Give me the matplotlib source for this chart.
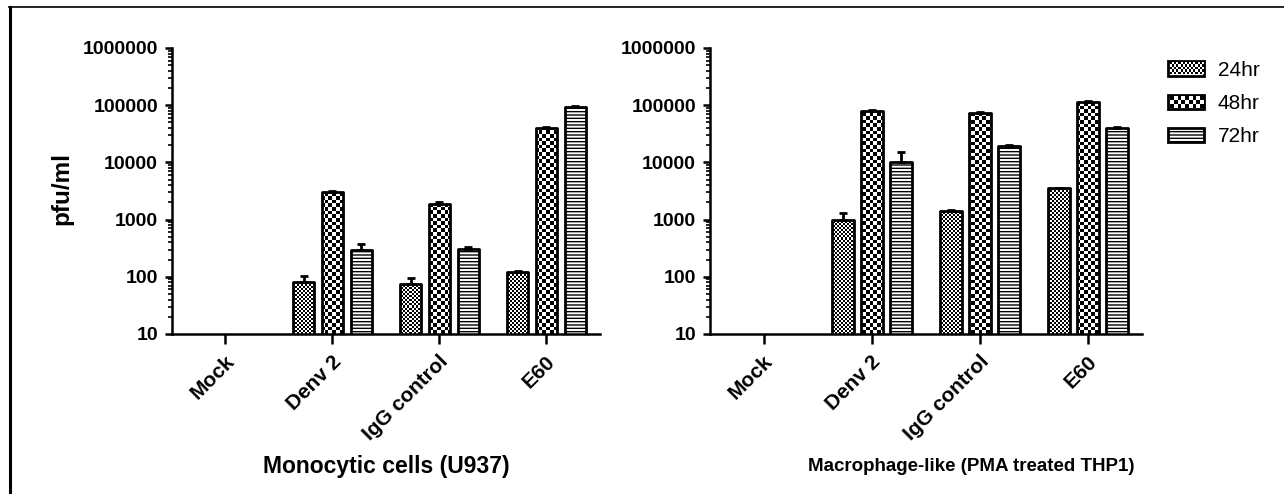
import numpy as np
import matplotlib
matplotlib.use("Agg")
import matplotlib.pyplot as plt
import matplotlib.transforms as mtransforms
from matplotlib.image import BboxImage
from matplotlib.transforms import Bbox

plt.rcParams['font.family'] = ['Liberation Sans', 'DejaVu Sans']

# data (pfu/ml, upper SEM); Mock has no bars
groups = ['Mock', 'Denv 2', 'IgG control', 'E60']
times = ['24hr', '48hr', '72hr']

u937_24 = [np.nan, 80, 75, 120]
u937_24_err = [np.nan, 25, 22, 5]
u937_48 = [np.nan, 3000, 1900, 40000]
u937_48_err = [np.nan, 150, 150, 2000]
u937_72 = [np.nan, 300, 310, 92000]
u937_72_err = [np.nan, 80, 20, 4000]

thp1_24 = [np.nan, 1000, 1400, 3500]
thp1_24_err = [np.nan, 300, 100, 100]
thp1_48 = [np.nan, 80000, 72000, 112000]
thp1_48_err = [np.nan, 4000, 3000, 8000]
thp1_72 = [np.nan, 10000, 19000, 40000]
thp1_72_err = [np.nan, 5000, 1500, 2000]

W, H = 1284, 499
fig = plt.figure(figsize=(W / 100, H / 100), dpi=100)

# outer frame lines (top and left edge of the original cell)
fig.add_artist(plt.Line2D([9 / W, 1], [1 - 7 / H, 1 - 7 / H], color='black', lw=1.2))
fig.add_artist(plt.Line2D([10 / W, 10 / W], [0.015, 1 - 7 / H], color='black', lw=2.2))


def checker(ny, nx):
    return (np.indices((ny, nx)).sum(axis=0) % 2).astype(float)


offs = [-0.27, 0.0, 0.27]
bw = 0.2
x = np.arange(len(groups))


def panel(ax, series, errs, xlabel, xlab_pos, xlab_size):
    ax.set_yscale('log')
    ax.set_xlim(-0.5, 3.5)
    ax.set_ylim(10, 1e6)
    ax.set_autoscale_on(False)
    bb = ax.get_position()
    axw, axh = bb.width * W, bb.height * H
    for i, (vals, err) in enumerate(zip(series, errs)):
        pos = x + offs[i]
        if i == 2:
            bars = ax.bar(pos, vals, bw, color='white', edgecolor='black',
                          linewidth=2.0, hatch='-----', zorder=2)
        else:
            bars = ax.bar(pos, vals, bw, color='none', edgecolor='black',
                          linewidth=2.0, zorder=2)
            cell = 2.0 if i == 0 else 3.6
            img = checker(int(axh / cell), int(axw / cell))
            for b in bars:
                if not np.isfinite(b.get_height()):
                    continue
                im = ax.imshow(img, cmap='gray', extent=(0, 1, 0, 1),
                               transform=ax.transAxes, interpolation='nearest',
                               aspect='auto', zorder=1)
                im.set_clip_path(b)
        for b in bars:
            b.set_joinstyle('round')
        ax.errorbar(pos, vals, yerr=[np.zeros(len(err)), err], fmt='none',
                    ecolor='black', elinewidth=2.0, capsize=3, capthick=2.0,
                    zorder=3)
    ax.set_xlim(-0.5, 3.5)
    ax.set_ylim(10, 1e6)
    for s in ['top', 'right']:
        ax.spines[s].set_visible(False)
    for s in ['left', 'bottom']:
        ax.spines[s].set_linewidth(1.8)
    ax.set_yticks([10, 100, 1000, 10000, 100000, 1000000])
    ax.set_yticklabels(['10', '100', '1000', '10000', '100000', '1000000'],
                       fontsize=14, fontweight='bold')
    ax.tick_params(axis='y', which='major', length=5, width=1.8, pad=5)
    ax.tick_params(axis='y', which='minor', length=3, width=1.2)
    ax.set_xticks(x)
    ax.set_xticklabels(groups, fontsize=15, fontweight='bold', rotation=45,
                       ha='right', va='top', rotation_mode='anchor')
    ax.tick_params(axis='x', length=7, width=1.8, pad=6)
    shift = mtransforms.ScaledTranslation(-1 / 100, 0, fig.dpi_scale_trans)
    for lab in ax.get_xticklabels():
        lab.set_transform(lab.get_transform() + shift)
    ax.set_xlabel(xlabel, fontsize=xlab_size, fontweight='bold')
    ax.xaxis.set_label_coords(xlab_pos, -0.465)
    ax.xaxis.get_label().set_va('center')


ax1 = fig.add_axes([172 / W, 1 - 334 / H, 428 / W, 286 / H])
ax2 = fig.add_axes([710 / W, 1 - 334 / H, 432 / W, 286 / H])

panel(ax1, [u937_24, u937_48, u937_72], [u937_24_err, u937_48_err, u937_72_err],
      'Monocytic cells (U937)', 0.5, 16.5)
panel(ax2, [thp1_24, thp1_48, thp1_72], [thp1_24_err, thp1_48_err, thp1_72_err],
      'Macrophage-like (PMA treated THP1)', 0.604, 13.5)

ax1.set_ylabel('pfu/ml', fontsize=17.5, fontweight='bold')
ax1.yaxis.set_label_coords(-0.231, 0.51)

# legend
handles = [plt.Rectangle((0, 0), 1, 1, facecolor='white', edgecolor='black', lw=2.0),
           plt.Rectangle((0, 0), 1, 1, facecolor='white', edgecolor='black', lw=2.0),
           plt.Rectangle((0, 0), 1, 1, facecolor='white', edgecolor='black', lw=2.0,
                         hatch='-----')]
leg = fig.legend(handles, times, loc='upper left', bbox_to_anchor=(1168 / W, 1 - 61 / H),
                 frameon=False, fontsize=15, handlelength=1.75, handleheight=0.7,
                 handletextpad=0.65, labelspacing=0.68, borderpad=0, borderaxespad=0)

fig.canvas.draw()
renderer = fig.canvas.get_renderer()
for h, cell in zip(leg.legend_handles[:2], [2.0, 3.6]):
    ext = h.get_window_extent(renderer)
    e = Bbox.from_extents(ext.x0 + 1.5, ext.y0 + 1.5, ext.x1 - 1.5, ext.y1 - 1.5)
    bi = BboxImage(e, cmap='gray', interpolation='nearest', zorder=10)
    bi.set_data(checker(max(int(e.height / cell), 1), max(int(e.width / cell), 1)))
    fig.add_artist(bi)

fig.savefig('out.png', dpi=100)
